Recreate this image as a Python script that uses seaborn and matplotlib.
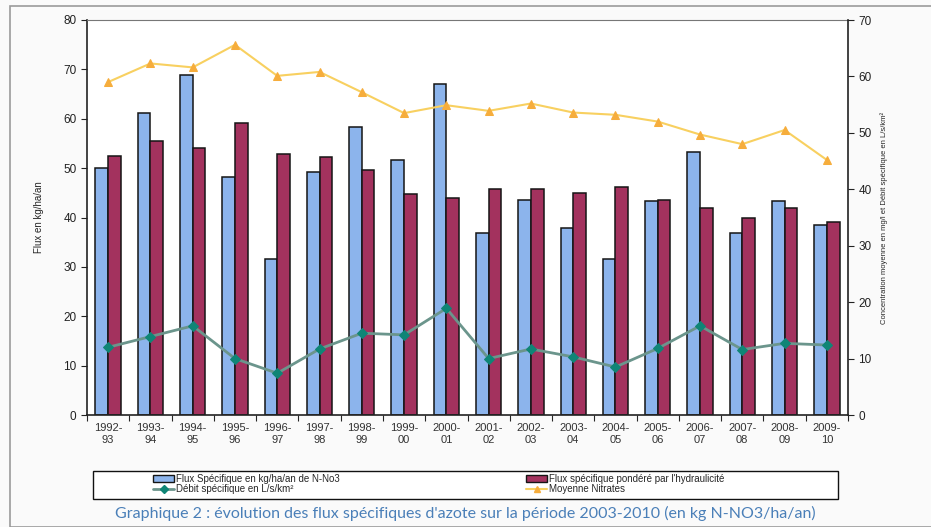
import matplotlib
matplotlib.use("Agg")
import matplotlib.pyplot as plt
import numpy as np
import pandas as pd
import seaborn as sns
from matplotlib.lines import Line2D
from matplotlib.patches import Patch, Rectangle
from matplotlib.ticker import FixedLocator, NullFormatter

seasons = [
    "1992-\n93", "1993-\n94", "1994-\n95", "1995-\n96", "1996-\n97", "1997-\n98",
    "1998-\n99", "1999-\n00", "2000-\n01", "2001-\n02", "2002-\n03", "2003-\n04",
    "2004-\n05", "2005-\n06", "2006-\n07", "2007-\n08", "2008-\n09", "2009-\n10",
]
flux_specifique = [50.0, 61.1, 68.8, 48.3, 31.6, 49.2, 58.3, 51.6, 67.1,
                   36.8, 43.6, 37.9, 31.6, 43.3, 53.3, 36.9, 43.4, 38.5]
flux_pondere = [52.5, 55.4, 54.0, 59.1, 52.9, 52.2, 49.6, 44.8, 43.9,
                45.8, 45.8, 45.0, 46.1, 43.5, 41.9, 40.0, 41.9, 39.1]
debit_specifique = [12.0, 13.9, 15.8, 10.0, 7.4, 11.7, 14.5, 14.2, 18.9,
                    10.0, 11.7, 10.3, 8.5, 11.8, 15.8, 11.6, 12.7, 12.4]
moyenne_nitrates = [59.0, 62.3, 61.6, 65.6, 60.1, 60.8, 57.2, 53.5, 54.9,
                    53.9, 55.2, 53.6, 53.2, 52.0, 49.7, 48.0, 50.5, 45.2]

lab_flux = "Flux Spécifique en kg/ha/an de N-No3"
lab_pond = "Flux spécifique pondéré par l'hydraulicité"
lab_debit = "Débit spécifique en L/s/km²"
lab_nitr = "Moyenne Nitrates"

col_blue = "#8cb4ec"
col_red = "#a3325e"
col_teal_line = "#6b958c"
col_teal_mark = "#0f8576"
col_yel_line = "#f8d060"
col_yel_mark = "#f6ad3c"

bars = pd.DataFrame({
    "season": seasons * 2,
    "value": flux_specifique + flux_pondere,
    "serie": [lab_flux] * len(seasons) + [lab_pond] * len(seasons),
})

sns.set_style("white")
plt.rcParams["font.family"] = ["Liberation Sans", "DejaVu Sans"]

fig = plt.figure(figsize=(9.31, 5.27), dpi=100, facecolor="#fafafa")
ax = fig.add_axes([87 / 931, 112 / 527, 761 / 931, 395 / 527])
ax.set_facecolor("white")

sns.barplot(data=bars, x="season", y="value", hue="serie",
            hue_order=[lab_flux, lab_pond], palette=[col_blue, col_red],
            saturation=1, width=0.6, edgecolor="#151515", linewidth=1.1,
            ax=ax, legend=False)

ax.set_ylim(0, 80)
ax.set_yticks(range(0, 81, 10))
ax.set_xlim(-0.5, len(seasons) - 0.5)
ax.set_xlabel("")
ax.set_ylabel("Flux en kg/ha/an", fontsize=7, labelpad=14)
ax.tick_params(axis="y", direction="out", length=4, width=0.8, labelsize=8.5,
               left=True, colors="#222222")
ax.tick_params(axis="x", which="major", length=0, labelsize=8, pad=6,
               colors="#333333")
ax.xaxis.set_minor_locator(FixedLocator(np.arange(-0.5, len(seasons), 1.0)))
ax.xaxis.set_minor_formatter(NullFormatter())
ax.tick_params(axis="x", which="minor", direction="out", length=4, width=0.8,
               bottom=True)
for side in ["left", "bottom"]:
    ax.spines[side].set_color("#222222")
    ax.spines[side].set_linewidth(1.2)
ax.spines["top"].set_color("#777777")
ax.spines["top"].set_linewidth(0.8)
ax.spines["right"].set_visible(False)

ax2 = ax.twinx()
xpos = np.arange(len(seasons))
sns.lineplot(x=xpos, y=debit_specifique, ax=ax2, color=col_teal_line,
             linewidth=2, marker="D", markersize=5,
             markerfacecolor=col_teal_mark, markeredgecolor=col_teal_mark)
sns.lineplot(x=xpos, y=moyenne_nitrates, ax=ax2, color=col_yel_line,
             linewidth=1.5, marker="^", markersize=5.5,
             markerfacecolor=col_yel_mark, markeredgecolor=col_yel_mark)
ax2.set_ylim(0, 70)
ax2.set_yticks(range(0, 71, 10))
ax2.set_xlim(-0.5, len(seasons) - 0.5)
ax2.set_ylabel("Concentration moyenne en mg/l et Débit spécifique en L/s/km²",
               fontsize=5.5, labelpad=6)
ax2.tick_params(axis="y", direction="out", length=4, width=0.8, labelsize=8.5,
                right=True, colors="#222222")
ax2.spines["right"].set_color("#222222")
ax2.spines["right"].set_linewidth(1.2)
for side in ["left", "top", "bottom"]:
    ax2.spines[side].set_visible(False)

h_flux = Patch(facecolor=col_blue, edgecolor="#151515", linewidth=1.0)
h_pond = Patch(facecolor=col_red, edgecolor="#151515", linewidth=1.0)
h_debit = Line2D([], [], color=col_teal_line, linewidth=2, marker="D",
                 markersize=4, markerfacecolor=col_teal_mark,
                 markeredgecolor=col_teal_mark)
h_nitr = Line2D([], [], color=col_yel_line, linewidth=1.5, marker="^",
                markersize=5, markerfacecolor=col_yel_mark,
                markeredgecolor=col_yel_mark)

# legend frame drawn separately, entries placed as two single columns
fig.patches.append(Rectangle((93 / 931, 1 - 499 / 527), 745 / 931, 28 / 527,
                             transform=fig.transFigure, facecolor="white",
                             edgecolor="#111111", linewidth=1.0))
for hs, ls, x0 in [([h_flux, h_debit], [lab_flux, lab_debit], 153),
                   ([h_pond, h_nitr], [lab_pond, lab_nitr], 526)]:
    fig.legend(hs, ls, ncol=1, loc="upper left",
               bbox_to_anchor=(x0 / 931, 1 - 474 / 527), fontsize=7,
               frameon=False, handlelength=2.2, handletextpad=0.2,
               labelspacing=0.05, borderpad=0.0, borderaxespad=0)

fig.patches.append(Rectangle((10 / 931, 0.0), 1.0, 1 - 6 / 527,
                             transform=fig.transFigure, fill=False,
                             edgecolor="#9a9a9a", linewidth=1.2))

fig.text(465 / 931, 1 - 513 / 527,
         "Graphique 2 : évolution des flux spécifiques d'azote sur la période 2003-2010 (en kg N-NO3/ha/an)",
         ha="center", va="center", fontsize=11.5, color="#4a7fb8",
         family=["Lato", "DejaVu Sans"])

fig.savefig("out.png", dpi=100, facecolor=fig.get_facecolor())
